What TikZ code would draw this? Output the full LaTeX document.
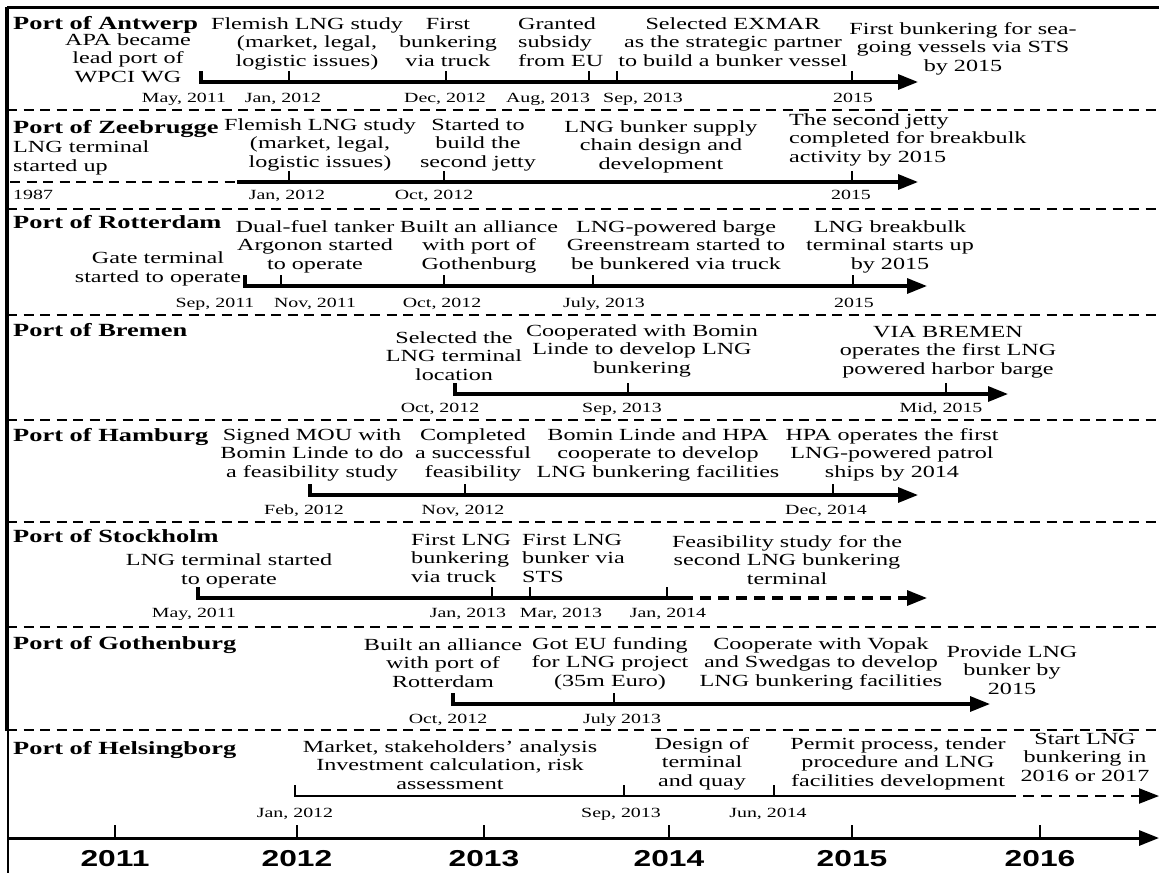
\documentclass[tikz,border=0pt]{standalone}
\usepackage{fontspec}
\setmainfont{Liberation Serif}[FakeStretch=1.42]
\newfontfamily\yearfont{Liberation Sans}[FakeStretch=1.38]
\usetikzlibrary{arrows.meta}
\begin{document}
\begin{tikzpicture}[x=1pt,y=-1pt,
  frame/.style={line width=3pt},
  sepline/.style={line width=2.2pt, dash pattern=on 10pt off 6.5pt},
  tlline/.style={line width=3.2pt},
  tl/.style={tlline, -{Triangle[length=20pt,width=15pt]}},
  thinline/.style={line width=2.2pt},
  tick/.style={line width=2.4pt},
  ev/.style={font=\fontsize{17}{18.5}\selectfont, align=center, inner sep=0pt, anchor=south, execute at end node=\strut},
  evl/.style={ev, align=left, anchor=south west},
  dt/.style={font=\fontsize{14}{16}\selectfont, inner sep=0pt, anchor=base},
  dtl/.style={dt, anchor=base west},
  ttl/.style={font=\fontsize{18.6}{20}\selectfont\bfseries, inner sep=0pt, anchor=base west},
  yr/.style={font=\yearfont\fontsize{23}{26}\selectfont\bfseries, inner sep=0pt, anchor=base}]
\useasboundingbox (0,0) rectangle (1159,873);
% frame and separators
\coordinate (fr0) at (7,731); \coordinate (fr1) at (7,7); \coordinate (fr2) at (1159,7);
\coordinate (fr3) at (8,729); \coordinate (fr4) at (8,873);
\draw[line width=4pt] (fr0) -- (fr1);
\draw[frame] (fr1) -- (fr2);
\draw[line width=2.6pt] (fr3) -- (fr4);
\foreach \y in {110,209,315,420,522,627,730} \draw[sepline] (7,\y) -- (1159,\y);

% ---------- Row 1: Antwerp ----------
\node[ttl] (t1) at (13,29) {Port of Antwerp};
\node[ev] (e11) at (128,88) {APA became\\lead port of\\WPCI WG};
\node[ev] (e12) at (307,72) {Flemish LNG study\\(market, legal,\\logistic issues)};
\node[ev] (e13) at (448,72) {First\\bunkering\\via truck};
\node[evl] (e14) at (518,72) {Granted\\subsidy\\from EU};
\node[ev] (e15) at (733,72) {Selected EXMAR\\as the strategic partner\\to build a bunker vessel};
\node[ev] (e16) at (963,77) {First bunkering for sea-\\going vessels via STS\\by 2015};
\coordinate (a1) at (201,82); \coordinate (b1) at (289,82); \coordinate (c1) at (446,82);
\coordinate (d1) at (589,82); \coordinate (f1) at (617,82); \coordinate (g1) at (852,82);
\coordinate (z1) at (918,82);
\draw[tl] ([yshift=11pt]a1) -- (a1) -- (z1);
\foreach \c in {b1,c1,d1,f1,g1} \draw[tick] (\c) -- ([yshift=11pt]\c);
\node[dt] (d11) at (184,102) {May, 2011};
\node[dt] (d12) at (283,102) {Jan, 2012};
\node[dt] (d13) at (445,102) {Dec, 2012};
\node[dt] (d14) at (548,102) {Aug, 2013};
\node[dt] (d15) at (643,102) {Sep, 2013};
\node[dt] (d16) at (853,102) {2015};

% ---------- Row 2: Zeebrugge ----------
\node[ttl] (t2) at (13,133) {Port of Zeebrugge};
\node[evl] (e21) at (13,177) {LNG terminal\\started up};
\node[ev] (e22) at (320,173) {Flemish LNG study\\(market, legal,\\logistic issues)};
\node[ev] (e23) at (478,173) {Started to\\build the\\second jetty};
\node[ev] (e24) at (661,175) {LNG bunker supply\\chain design and\\development};
\node[evl] (e25) at (789,168) {The second jetty\\completed for breakbulk\\activity by 2015};
\coordinate (a2) at (10,182); \coordinate (s2) at (237,182); \coordinate (b2) at (289,182);
\coordinate (c2) at (444,182); \coordinate (g2) at (852,182); \coordinate (z2) at (918,182);
\draw[thinline, dash pattern=on 10pt off 6.5pt] (a2) -- (s2);
\draw[tl] (s2) -- (z2);
\foreach \c in {b2,c2,g2} \draw[tick] (\c) -- ([yshift=11pt]\c);
\node[dtl] (d21) at (13,199) {1987};
\node[dt] (d22) at (287,199) {Jan, 2012};
\node[dt] (d23) at (434,199) {Oct, 2012};
\node[dt] (d24) at (851,199) {2015};

% ---------- Row 3: Rotterdam ----------
\node[ttl] (t3) at (13,228) {Port of Rotterdam};
\node[ev] (e31) at (158,288) {Gate terminal\\started to operate};
\node[ev] (e32) at (315,275) {Dual-fuel tanker\\Argonon started\\to operate};
\node[ev] (e33) at (479,275) {Built an alliance\\with port of\\Gothenburg};
\node[ev] (e34) at (676,275) {LNG-powered barge\\Greenstream started to\\be bunkered via truck};
\node[ev] (e35) at (890,275) {LNG breakbulk\\terminal starts up\\by 2015};
\coordinate (a3) at (245,286); \coordinate (b3) at (281,286); \coordinate (c3) at (444,286);
\coordinate (d3) at (593,286); \coordinate (g3) at (853,286); \coordinate (z3) at (927,286);
\draw[tl] ([yshift=11pt]a3) -- (a3) -- (z3);
\foreach \c in {b3,c3,d3,g3} \draw[tick] (\c) -- ([yshift=11pt]\c);
\node[dt] (d31) at (215,307) {Sep, 2011};
\node[dt] (d32) at (315,307) {Nov, 2011};
\node[dt] (d33) at (442,307) {Oct, 2012};
\node[dt] (d34) at (604,307) {July, 2013};
\node[dt] (d35) at (854,307) {2015};

% ---------- Row 4: Bremen ----------
\node[ttl] (t4) at (13,336) {Port of Bremen};
\node[ev] (e41) at (454,386) {Selected the\\LNG terminal\\location};
\node[ev] (e42) at (642,379) {Cooperated with Bomin\\Linde to develop LNG\\bunkering};
\node[ev] (e43) at (948,380) {VIA BREMEN\\operates the first LNG\\powered harbor barge};
\coordinate (a4) at (455,394); \coordinate (b4) at (628,394); \coordinate (c4) at (946,394);
\coordinate (z4) at (1008,394);
\draw[tl] ([yshift=11pt]a4) -- (a4) -- (z4);
\foreach \c in {b4,c4} \draw[tick] (\c) -- ([yshift=11pt]\c);
\node[dt] (d41) at (440,412) {Oct, 2012};
\node[dt] (d42) at (622,412) {Sep, 2013};
\node[dt] (d43) at (941,412) {Mid, 2015};

% ---------- Row 5: Hamburg ----------
\node[ttl] (t5) at (13,441) {Port of Hamburg};
\node[ev] (e51) at (312,483) {Signed MOU with\\Bomin Linde to do\\a feasibility study};
\node[ev] (e52) at (473,483) {Completed\\a successful\\feasibility};
\node[ev] (e53) at (658,483) {Bomin Linde and HPA\\cooperate to develop\\LNG bunkering facilities};
\node[ev] (e54) at (892,483) {HPA operates the first\\LNG-powered patrol\\ships by 2014};
\coordinate (a5) at (310,495); \coordinate (b5) at (465,495); \coordinate (c5) at (833,495);
\coordinate (z5) at (918,495);
\draw[tl] ([yshift=11pt]a5) -- (a5) -- (z5);
\foreach \c in {b5,c5} \draw[tick] (\c) -- ([yshift=11pt]\c);
\node[dt] (d51) at (304,514) {Feb, 2012};
\node[dt] (d52) at (463,514) {Nov, 2012};
\node[dt] (d53) at (826,514) {Dec, 2014};

% ---------- Row 6: Stockholm ----------
\node[ttl] (t6) at (13,542) {Port of Stockholm};
\node[ev] (e61) at (229,590) {LNG terminal started\\to operate};
\node[evl] (e62) at (411,588) {First LNG\\bunkering\\via truck};
\node[evl] (e63) at (522,588) {First LNG\\bunker via\\STS};
\node[ev] (e64) at (787,590) {Feasibility study for the\\second LNG bunkering\\terminal};
\coordinate (a6) at (198,598); \coordinate (b6) at (492,598); \coordinate (c6) at (530,598);
\coordinate (d6) at (667,598); \coordinate (s6) at (682,598); \coordinate (z6) at (927,598);
\draw[tlline] ([yshift=11pt]a6) -- (a6) -- (s6);
\draw[tl, dash pattern=on 11pt off 7pt] (s6) -- (z6);
\foreach \c in {b6,c6,d6} \draw[tick] (\c) -- ([yshift=11pt]\c);
\node[dt] (d61) at (194,617) {May, 2011};
\node[dt] (d62) at (468,617) {Jan, 2013};
\node[dt] (d63) at (561,617) {Mar, 2013};
\node[dt] (d64) at (668,617) {Jan, 2014};

% ---------- Row 7: Gothenburg ----------
\node[ttl] (t7) at (13,649) {Port of Gothenburg};
\node[ev] (e71) at (443,693) {Built an alliance\\with port of\\Rotterdam};
\node[ev] (e72) at (610,692) {Got EU funding\\for LNG project\\(35m Euro)};
\node[ev] (e73) at (821,692) {Cooperate with Vopak\\and Swedgas to develop\\LNG bunkering facilities};
\node[ev] (e74) at (1012,700) {Provide LNG\\bunker by\\2015};
\coordinate (a7) at (453,704); \coordinate (b7) at (614,704); \coordinate (z7) at (990,704);
\draw[tl] ([yshift=11pt]a7) -- (a7) -- (z7);
\draw[tick] (b7) -- ([yshift=11pt]b7);
\node[dt] (d71) at (448,723) {Oct, 2012};
\node[dt] (d72) at (622,723) {July 2013};

% ---------- Row 8: Helsingborg ----------
\node[ttl] (t8) at (13,754) {Port of Helsingborg};
\node[ev] (e81) at (450,795) {Market, stakeholders' analysis\\Investment calculation, risk\\assessment};
\node[ev] (e82) at (702,792) {Design of\\terminal\\and quay};
\node[ev] (e83) at (898,792) {Permit process, tender\\procedure and LNG\\facilities development};
\node[ev] (e84) at (1085,787) {Start LNG\\bunkering in\\2016 or 2017};
\coordinate (a8) at (295,796); \coordinate (b8) at (624,796); \coordinate (c8) at (774,796);
\coordinate (s8) at (1005,796); \coordinate (z8) at (1159,796);
\draw[thinline] ([yshift=11pt]a8) -- (a8) -- (s8);
\draw[thinline, -{Triangle[length=20pt,width=15pt]}, dash pattern=on 11pt off 7pt] (s8) -- (z8);
\foreach \c in {b8,c8} \draw[tick] (\c) -- ([yshift=11pt]\c);
\node[dt] (d81) at (295,817) {Jan, 2012};
\node[dt] (d82) at (621,817) {Sep, 2013};
\node[dt] (d83) at (768,817) {Jun, 2014};

% ---------- Axis ----------
\coordinate (ax0) at (7,838); \coordinate (ax1) at (1159,838);
\draw[line width=3pt, -{Triangle[length=20pt,width=15pt]}] (ax0) -- (ax1);
\foreach \x/\yy in {115/2011,297/2012,484/2013,669/2014,852/2015,1040/2016} {
  \draw[tick] (\x,838) -- (\x,825);
  \node[yr] (y\yy) at (\x,866) {\yy};
}
\end{tikzpicture}
\end{document}
